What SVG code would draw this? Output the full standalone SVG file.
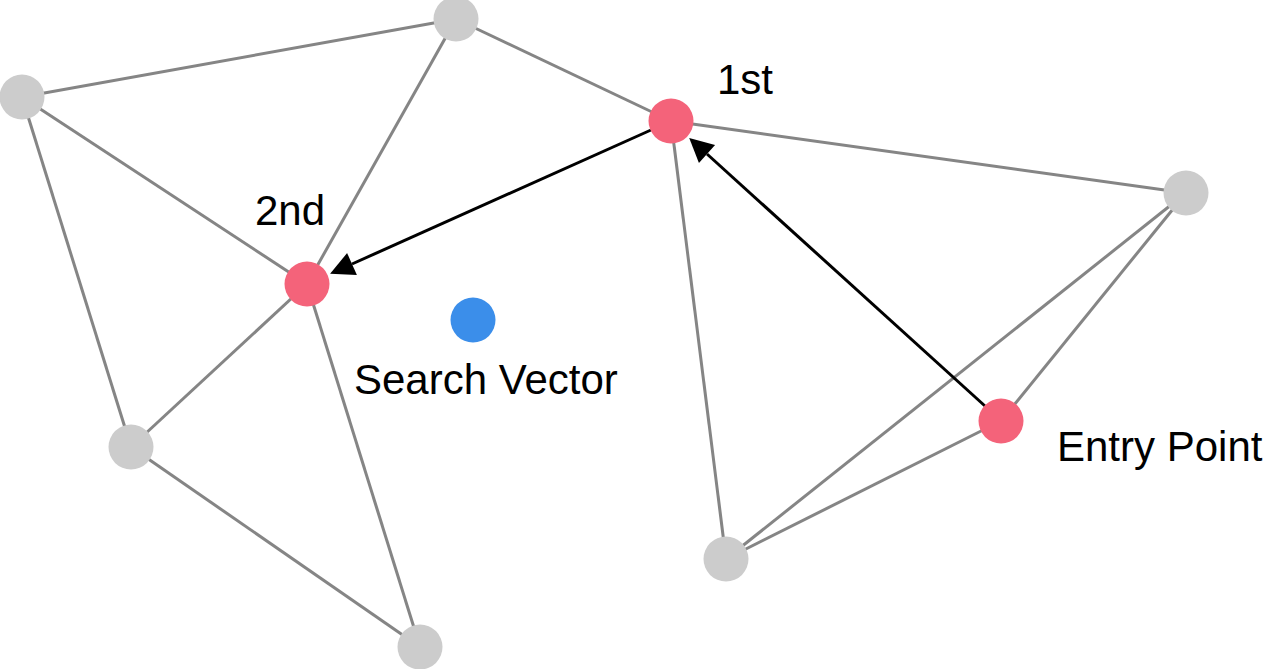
<svg xmlns="http://www.w3.org/2000/svg" width="1268" height="669" viewBox="0 0 1268 669">
<style>
.edge{stroke:#858585;stroke-width:3;fill:none}
.arrow{stroke:#000;stroke-width:3;fill:none;marker-end:url(#head)}
.gray{fill:#CCCCCC}
.red{fill:#F4637A}
.blue{fill:#3B8EEA}
.lbl{font-family:"Liberation Sans",Arial,sans-serif;font-size:42px;fill:#000}
</style>
<defs>
<marker id="head" markerUnits="userSpaceOnUse" viewBox="0 -12 24 24" refX="0" refY="0" markerWidth="24" markerHeight="24" orient="auto" overflow="visible">
<path d="M0,-12 L24,0 L0,12 Z" fill="#000"/>
</marker>
</defs>
<rect width="1268" height="669" fill="#fff"/>
<g id="connectors">
<line class="edge" x1="22" y1="97" x2="456" y2="19"/>
<line class="edge" x1="456" y1="19" x2="671" y2="121"/>
<line class="edge" x1="456" y1="19" x2="307" y2="284"/>
<line class="edge" x1="22" y1="97" x2="307" y2="284"/>
<line class="edge" x1="22" y1="97" x2="131" y2="447"/>
<line class="edge" x1="131" y1="447" x2="307" y2="284"/>
<line class="edge" x1="131" y1="447" x2="420" y2="647"/>
<line class="edge" x1="307" y1="284" x2="420" y2="647"/>
<line class="edge" x1="671" y1="121" x2="1186" y2="193"/>
<line class="edge" x1="671" y1="121" x2="726" y2="559"/>
<line class="edge" x1="1186" y1="193" x2="726" y2="559"/>
<line class="edge" x1="1186" y1="193" x2="1001" y2="421"/>
<line class="edge" x1="1001" y1="421" x2="726" y2="559"/>
<line class="arrow" x1="651" y1="130" x2="352" y2="264"/>
<line class="arrow" x1="985" y1="406" x2="707" y2="154"/>
</g>
<g id="nodeA"><circle class="gray" cx="456" cy="19" r="22.5"/></g>
<g id="nodeB"><circle class="gray" cx="22" cy="97" r="22.5"/></g>
<g id="node1st"><circle class="red" cx="671" cy="121" r="22.5"/><text class="lbl" x="717" y="94">1st</text></g>
<g id="nodeD"><circle class="gray" cx="1186" cy="193" r="22.5"/></g>
<g id="node2nd"><circle class="red" cx="307" cy="284" r="22.5"/><text class="lbl" x="255" y="225">2nd</text></g>
<g id="searchVector"><circle class="blue" cx="473" cy="320" r="22.5"/><text class="lbl" x="354" y="394">Search Vector</text></g>
<g id="entryPoint"><circle class="red" cx="1001" cy="421" r="22.5"/><text class="lbl" x="1057" y="461">Entry Point</text></g>
<g id="nodeH"><circle class="gray" cx="131" cy="447" r="22.5"/></g>
<g id="nodeI"><circle class="gray" cx="726" cy="559" r="22.5"/></g>
<g id="nodeJ"><circle class="gray" cx="420" cy="647" r="22.5"/></g>
</svg>
